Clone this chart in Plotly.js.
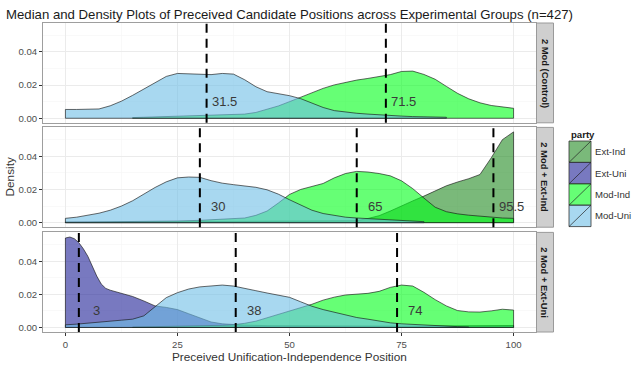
<!DOCTYPE html>
<html><head><meta charset="utf-8">
<script src="https://cdn.plot.ly/plotly-3.0.1.min.js"></script>
<style>html,body{margin:0;padding:0;background:#fff}#chart{width:640px;height:385px}</style>
</head><body><div id="chart"></div>
<script>
// ---------- data ----------
const panelNames = ['2 Mod (Control)', '2 Mod + Ext-Ind', '2 Mod + Ext-Uni'];
const partyNames = ['Ext-Ind', 'Ext-Uni', 'Mod-Ind', 'Mod-Uni'];
const partyColors = ['rgba(34,139,34,0.6)', 'rgba(30,32,150,0.6)', 'rgba(0,255,25,0.6)', 'rgba(110,190,230,0.6)'];

// Panel 1: 2 Mod (Control)
const ctrlModIndX = [15,17.5,20,25,30,35,37.5,40,42.5,45,47.5,50,52.5,55,57.5,60,62.5,65,67.5,70,72.5,75,77.5,80,82.5,85,87.5,90,92.5,95,97.5,100];
const ctrlModIndD = [0.0004,0.0006,0.0008,0.0011,0.0014,0.0018,0.0020,0.0025,0.0035,0.0053,0.0074,0.0100,0.0128,0.0155,0.0180,0.0201,0.0217,0.0230,0.0240,0.0250,0.0263,0.0282,0.0284,0.0264,0.0235,0.0192,0.0150,0.0117,0.0093,0.0077,0.0067,0.0060];
const ctrlModUniX = [0,2.5,5,7.5,10,12.5,15,17.5,20,22.5,25,27.5,30,32.5,35,37.5,40,42.5,45,47.5,50,52.5,55,57.5,60,62.5,65,67.5,70,72.5,75,77.5,80,82.5,85];
const ctrlModUniD = [0.0053,0.0053,0.0053,0.0056,0.0075,0.0103,0.0138,0.0177,0.0217,0.0252,0.0270,0.0268,0.0264,0.0263,0.0270,0.0266,0.0232,0.0190,0.0160,0.0147,0.0136,0.0118,0.0092,0.0065,0.0046,0.0036,0.0030,0.0025,0.0020,0.0016,0.0013,0.0010,0.0008,0.0007,0.0006];

// Panel 2: 2 Mod + Ext-Ind
const eiExtIndX = [0,10,20,30,40,50,55,57.5,60,62.5,65,67.5,70,72.5,75,77.5,80,82.5,85,87.5,90,92.5,95,97.5,100];
const eiExtIndD = [0.0003,0.0003,0.0004,0.0005,0.0006,0.0007,0.0007,0.0007,0.0007,0.0008,0.0012,0.0025,0.0042,0.0070,0.0103,0.0131,0.0160,0.0190,0.0222,0.0245,0.0265,0.0290,0.0390,0.0500,0.0547];
const eiModIndX = [0,5,10,15,20,25,30,35,37.5,40,42.5,45,47.5,50,52.5,55,57.5,60,62.5,65,67.5,70,72.5,75,77.5,80,82.5,85,87.5,90,92.5,95,97.5,100];
const eiModIndD = [0.0003,0.0004,0.0005,0.0006,0.0008,0.0010,0.0014,0.0019,0.0022,0.0028,0.0044,0.0070,0.0118,0.0170,0.0200,0.0218,0.0236,0.0270,0.0296,0.0309,0.0305,0.0296,0.0282,0.0252,0.0205,0.0148,0.0093,0.0066,0.0053,0.0045,0.0038,0.0031,0.0028,0.0026];
const eiModUniX = [0,2.5,5,7.5,10,12.5,15,17.5,20,22.5,25,27.5,30,32.5,35,37.5,40,42.5,45,47.5,50,52.5,55,57.5,60,62.5,65,67.5,70,72.5,75,77.5,80];
const eiModUniD = [0.0026,0.0033,0.0043,0.0057,0.0075,0.0100,0.0132,0.0172,0.0212,0.0246,0.0270,0.0275,0.0273,0.0253,0.0238,0.0229,0.0222,0.0213,0.0198,0.0172,0.0138,0.0106,0.0075,0.0055,0.0042,0.0033,0.0028,0.0024,0.0020,0.0016,0.0012,0.0009,0.0006];

// Panel 3: 2 Mod + Ext-Uni
const euExtUniX = [0,1,2,3,4,5,6,7,8,9,10,12.5,15,17.5,20,22.5,25,27.5,30,32.5,35,37.5,40,45,50,55,60,65,70,75,80,85,90,95,100];
const euExtUniD = [0.0540,0.0546,0.0536,0.0512,0.0475,0.0430,0.0370,0.0310,0.0262,0.0236,0.0225,0.0205,0.0187,0.0160,0.0130,0.0121,0.0108,0.0083,0.0056,0.0033,0.0022,0.0017,0.0014,0.0011,0.0010,0.0010,0.0009,0.0008,0.0008,0.0008,0.0009,0.0010,0.0011,0.0012,0.0012];
const euModIndX = [15,20,25,30,35,37.5,40,42.5,45,47.5,50,52.5,55,57.5,60,62.5,65,67.5,70,72.5,75,77.5,80,82.5,85,87.5,90,92.5,95,97.5,100];
const euModIndD = [0.0003,0.0005,0.0007,0.0009,0.0013,0.0017,0.0025,0.0038,0.0058,0.0078,0.0098,0.0120,0.0140,0.0165,0.0183,0.0196,0.0202,0.0206,0.0218,0.0242,0.0256,0.0250,0.0212,0.0168,0.0130,0.0102,0.0094,0.0093,0.0100,0.0110,0.0105];
const euModUniX = [0,2.5,5,7.5,10,12.5,15,17.5,20,22.5,25,27.5,30,32.5,35,37.5,40,42.5,45,47.5,50,52.5,55,57.5,60,62.5,65,67.5,70,72.5,75,77.5,80,82.5,85,87.5,90];
const euModUniD = [0.0016,0.0020,0.0027,0.0034,0.0040,0.0044,0.0050,0.0070,0.0125,0.0180,0.0210,0.0232,0.0245,0.0252,0.0256,0.0250,0.0238,0.0222,0.0208,0.0195,0.0182,0.0155,0.0128,0.0108,0.0092,0.0074,0.0060,0.0050,0.0038,0.0028,0.0022,0.0018,0.0013,0.0010,0.0007,0.0005,0.0003];

// Medians (panel index, value)
const medianPanel = [0, 0, 1, 1, 1, 2, 2, 2];
const medianValue = [31.5, 71.5, 30, 65, 95.5, 3, 38, 74];
const medianLabel = ['31.5', '71.5', '30', '65', '95.5', '3', '38', '74'];

const xTickVals = [0, 25, 50, 75, 100];
const yTickVals = [0, 0.02, 0.04];

// curves in drawing order (factor order within each panel)
const curves = [
  {panel: 0, party: 'Mod-Ind', x: ctrlModIndX, d: ctrlModIndD},
  {panel: 0, party: 'Mod-Uni', x: ctrlModUniX, d: ctrlModUniD},
  {panel: 1, party: 'Ext-Ind', x: eiExtIndX, d: eiExtIndD},
  {panel: 1, party: 'Mod-Ind', x: eiModIndX, d: eiModIndD},
  {panel: 1, party: 'Mod-Uni', x: eiModUniX, d: eiModUniD},
  {panel: 2, party: 'Ext-Uni', x: euExtUniX, d: euExtUniD},
  {panel: 2, party: 'Mod-Ind', x: euModIndX, d: euModIndD},
  {panel: 2, party: 'Mod-Uni', x: euModUniX, d: euModUniD}
];

// ---------- geometry ----------
const W = 640, H = 385, ML = 43, MR = 86, MT = 23, MB = 53;
const PW = W - ML - MR, PH = H - MT - MB;
const px2x = p => (p - ML) / PW;
const py2y = p => (H - MB - p) / PH;
const xDomEnd = px2x(536);
const yDomains = [[py2y(122.8), 1], [py2y(227.2), py2y(127.4)], [0, py2y(232.4)]];
const axSuffix = i => (i === 0 ? '' : String(i + 1));
const FONT = 'Liberation Sans, Arial, sans-serif';

const traces = curves.map(c => {
  const xs = [c.x[0]].concat(c.x, [c.x[c.x.length - 1], c.x[0]]);
  const ys = [0].concat(c.d, [0, 0]);
  return {
    type: 'scatter', mode: 'lines', x: xs, y: ys, fill: 'toself',
    fillcolor: partyColors[partyNames.indexOf(c.party)],
    line: {color: 'rgba(20,20,20,0.8)', width: 0.8},
    xaxis: 'x' + axSuffix(c.panel), yaxis: 'y' + axSuffix(c.panel),
    hoverinfo: 'skip', showlegend: false
  };
});

const layout = {
  width: W, height: H,
  margin: {l: ML, r: MR, t: MT, b: MB, pad: 0},
  paper_bgcolor: '#ffffff', plot_bgcolor: '#ffffff',
  showlegend: false,
  font: {family: FONT, color: '#333'},
  title: {text: 'Median and Density Plots of Preceived Candidate Positions across Experimental Groups (n=427)',
          font: {family: FONT, size: 13.2, color: '#1a1a1a'},
          x: 6 / W, xref: 'container', xanchor: 'left', y: 1 - 14 / H, yref: 'container', yanchor: 'middle'},
  shapes: [], annotations: []
};

function ann(o) {
  return Object.assign({showarrow: false, xanchor: 'center', yanchor: 'middle'}, o);
}

for (let i = 0; i < 3; i++) {
  const s = axSuffix(i);
  layout['xaxis' + s] = {
    range: [-5, 105], domain: [0, xDomEnd], anchor: 'y' + s,
    tickvals: xTickVals, ticktext: xTickVals.map(String),
    showticklabels: i === 2, ticks: i === 2 ? 'outside' : '', ticklen: 3, tickcolor: '#333', tickwidth: 1,
    tickfont: {family: FONT, size: 9.6, color: '#4d4d4d'},
    showgrid: true, gridcolor: '#ebebeb', gridwidth: 1,
    minor: {dtick: 12.5, tick0: 0, showgrid: true, gridcolor: '#f5f5f5', gridwidth: 0.6},
    zeroline: false, showline: true, mirror: true, linecolor: '#9e9e9e', linewidth: 1,
    fixedrange: true
  };
  layout['yaxis' + s] = {
    range: [-0.00274, 0.0574], domain: yDomains[i], anchor: 'x' + s,
    tickvals: yTickVals, ticktext: yTickVals.map(v => v.toFixed(2)),
    ticks: 'outside', ticklen: 3, tickcolor: '#333', tickwidth: 1,
    tickfont: {family: FONT, size: 9.6, color: '#4d4d4d'},
    showgrid: true, gridcolor: '#ebebeb', gridwidth: 1,
    minor: {dtick: 0.01, tick0: 0, showgrid: true, gridcolor: '#f5f5f5', gridwidth: 0.6},
    zeroline: false, showline: true, mirror: true, linecolor: '#9e9e9e', linewidth: 1,
    fixedrange: true
  };
  // strip
  layout.shapes.push({type: 'rect', xref: 'paper', yref: 'paper', x0: px2x(536.5), x1: px2x(553.5),
    y0: yDomains[i][0], y1: yDomains[i][1], fillcolor: '#cfcfcf', line: {color: '#9a9a9a', width: 1}, layer: 'above'});
  layout.annotations.push(ann({xref: 'paper', yref: 'paper', x: px2x(545), y: (yDomains[i][0] + yDomains[i][1]) / 2,
    text: '<b>' + panelNames[i] + '</b>', textangle: 90,
    font: {family: FONT, size: 9.4, color: '#1a1a1a'}}));
}

// median lines and labels
medianValue.forEach((m, k) => {
  const s = axSuffix(medianPanel[k]);
  layout.shapes.push({type: 'line', xref: 'x' + s, yref: 'y' + s + ' domain', x0: m, x1: m, y0: 0, y1: 1,
    line: {color: '#000', width: 2, dash: '9px,6px'}, layer: 'above'});
  layout.annotations.push(ann({xref: 'x' + s, yref: 'y' + s, x: m + 4, y: 0.01, text: medianLabel[k],
    font: {family: FONT, size: 13, color: '#3a3a3a'}}));
});

// axis titles
layout.annotations.push(ann({xref: 'paper', yref: 'paper', x: px2x(9.5), y: py2y(177), text: 'Density', textangle: -90,
  font: {family: FONT, size: 11.8, color: '#333'}}));
layout.annotations.push(ann({xref: 'paper', yref: 'paper', x: px2x(289.5), y: py2y(357), text: 'Preceived Unification-Independence Position',
  font: {family: FONT, size: 11.8, color: '#333'}}));

// legend
layout.annotations.push(ann({xref: 'paper', yref: 'paper', x: px2x(568.5), y: py2y(134), xanchor: 'left', text: '<b>party</b>',
  font: {family: FONT, size: 9.6, color: '#1a1a1a'}}));
const keyTop = 141, keyH = 21.4, keyL = 569, keyR = 591;
partyNames.forEach((p, i) => {
  const t = keyTop + keyH * i, b = t + keyH;
  layout.shapes.push({type: 'rect', xref: 'paper', yref: 'paper', x0: px2x(keyL), x1: px2x(keyR), y0: py2y(b), y1: py2y(t),
    fillcolor: partyColors[i], line: {color: '#333', width: 0.8}, layer: 'above'});
  layout.shapes.push({type: 'line', xref: 'paper', yref: 'paper', x0: px2x(keyL), x1: px2x(keyR), y0: py2y(b), y1: py2y(t),
    line: {color: '#222', width: 0.7}, layer: 'above'});
  layout.annotations.push(ann({xref: 'paper', yref: 'paper', x: px2x(593), y: py2y((t + b) / 2), xanchor: 'left', text: p,
    font: {family: FONT, size: 9.6, color: '#333'}}));
});

Plotly.newPlot('chart', traces, layout, {staticPlot: true, displayModeBar: false});
</script>
</body></html>
